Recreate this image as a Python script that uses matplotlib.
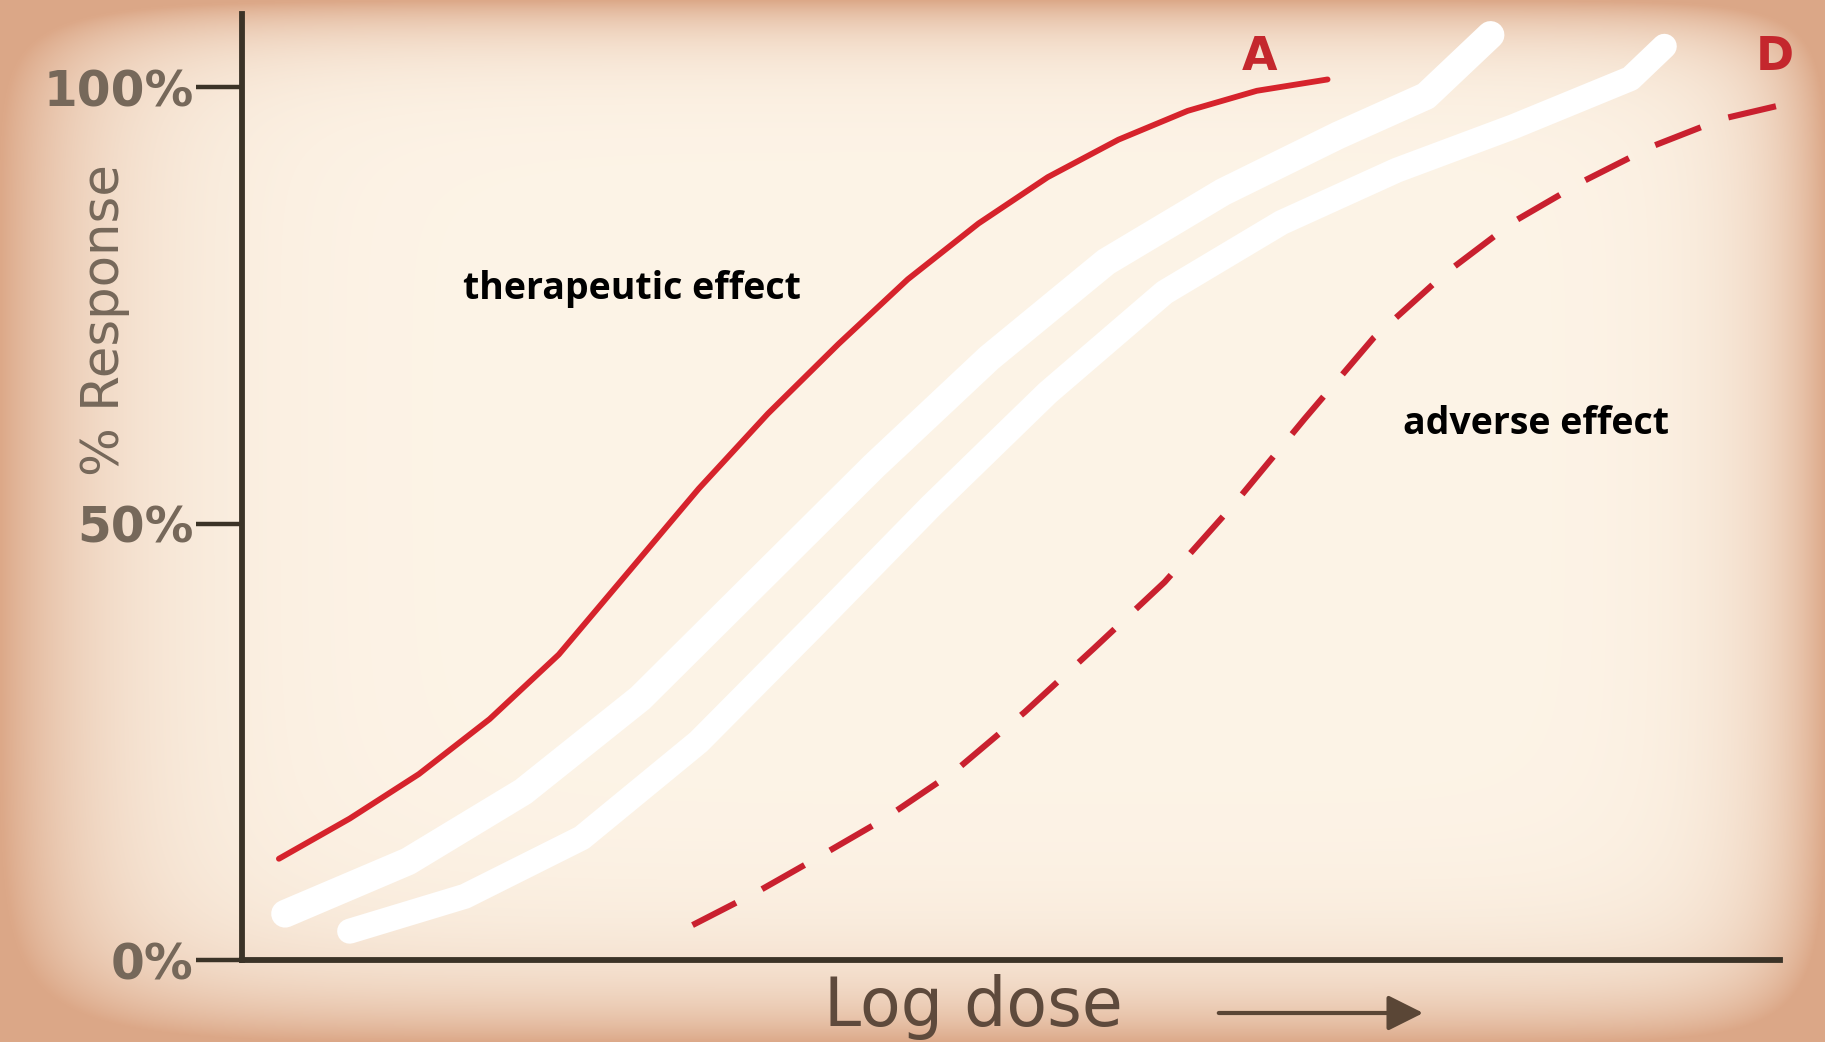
import matplotlib
matplotlib.use("Agg")
import matplotlib.pyplot as plt
import numpy as np

# log dose (arbitrary units along the axis) and % response
dose_a = [0.24, 0.70, 1.15, 1.61, 2.06, 2.52, 2.97, 3.42, 3.88, 4.33, 4.79, 5.24, 5.70, 6.15, 6.60, 7.06]
resp_a = [11.6, 16.2, 21.3, 27.6, 35.0, 44.6, 54.0, 62.6, 70.6, 78.0, 84.4, 89.7, 94.0, 97.3, 99.6, 100.9]

dose_d = [2.93, 3.35, 3.73, 4.18, 4.64, 5.09, 5.54, 6.00, 6.45, 6.91, 7.36, 7.82, 8.27, 8.73, 9.18, 9.63, 10.09]
resp_d = [4.0, 7.8, 11.6, 16.2, 21.7, 28.4, 35.7, 43.3, 52.2, 62.0, 71.3, 78.6, 84.6, 89.3, 93.3, 96.4, 98.3]

# the two erased curves (painted over in white)
dose_b = [0.28, 1.08, 1.83, 2.59, 3.35, 4.11, 4.86, 5.62, 6.38, 7.13, 7.70, 8.12]
resp_b = [5.3, 11.3, 19.3, 30.0, 43.3, 56.6, 69.0, 80.0, 88.0, 94.5, 99.0, 106.0]
dose_c = [0.70, 1.45, 2.21, 2.97, 3.73, 4.48, 5.24, 6.00, 6.76, 7.51, 8.27, 9.03, 9.25]
resp_c = [3.3, 7.3, 14.0, 25.0, 38.5, 52.0, 65.0, 76.5, 84.5, 90.5, 95.5, 101.0, 104.7]

ytick_vals = [0, 50, 100]
ytick_labels = ["0%", "50%", "100%"]

W, H = 1825, 1042
fig = plt.figure(figsize=(W / 100, H / 100), dpi=100)

# warm vignette background
yy, xx = np.mgrid[0:H, 0:W]
w = (np.exp(-xx / 95.0) + np.exp(-(W - xx) / 60.0)
     + np.exp(-yy / 35.0) + np.exp(-(H - yy) / 55.0))
w = np.clip(w, 0, 1)[..., None]
cream = np.array([253, 244, 231]) / 255
tan = np.array([220, 168, 136]) / 255
bg = fig.add_axes([0, 0, 1, 1], zorder=0)
bg.imshow(cream * (1 - w) + tan * w, aspect="auto", extent=[0, 1, 0, 1])
bg.axis("off")

ax = fig.add_axes([242 / W, 82 / H, 1553 / W, 946 / H], zorder=1)
ax.set_facecolor("none")
ax.set_xlim(0, 10.1)
ax.set_ylim(0, 108.4)

axis_col = "#3b3327"
label_col = "#76685a"
for s in ["top", "right"]:
    ax.spines[s].set_visible(False)
for s in ["left", "bottom"]:
    ax.spines[s].set_color(axis_col)
    ax.spines[s].set_linewidth(4.2)
ax.spines["bottom"].set_bounds(0, 10.0)

ax.set_xticks([])
ax.set_yticks(ytick_vals)
ax.set_yticklabels(ytick_labels, fontsize=35, color=label_col, fontweight="bold")
ax.tick_params(axis="y", length=33, width=3.2, color=axis_col, pad=2)

ax.plot(dose_b, resp_b, color="white", lw=20, solid_capstyle="round",
        solid_joinstyle="round", zorder=2)
ax.plot(dose_c, resp_c, color="white", lw=18, solid_capstyle="round",
        solid_joinstyle="round", zorder=2)

ax.plot(dose_a, resp_a, color="#d6232c", lw=4.2, solid_joinstyle="round",
        solid_capstyle="round", zorder=3)
ax.plot(dose_d, resp_d, color="#c9202f", lw=4.4, dashes=(8, 4.8),
        clip_on=False, zorder=3)

ax.text(6.62, 103.4, "A", color="#c4272d", fontsize=33, fontweight="bold",
        ha="center", va="center")
ax.text(9.97, 103.4, "D", color="#c4272d", fontsize=33, fontweight="bold",
        ha="center", va="center", clip_on=False)

ax.text(1.44, 76.9, "therapeutic effect", fontsize=27, fontweight="bold",
        family="Open Sans", color="black", va="center")
ax.text(7.55, 61.4, "adverse effect", fontsize=27, fontweight="bold",
        family="Open Sans", color="black", va="center")

fig.text(105 / W, 1 - 320 / H, "% Response", rotation=90, fontsize=37,
         color=label_col, ha="center", va="center")
fig.text(973 / W, 2 / H, "Log dose", fontsize=48, color="#5e4a3c",
         ha="center", va="bottom")
fig.patches.append(matplotlib.patches.FancyArrowPatch(
    (1216 / W, 1 - 1013 / H), (1426 / W, 1 - 1013 / H),
    transform=fig.transFigure, arrowstyle="-|>,head_length=1.2,head_width=0.6",
    mutation_scale=18, lw=3, color="#5a4636"))

fig.savefig("out.png", dpi=100)
